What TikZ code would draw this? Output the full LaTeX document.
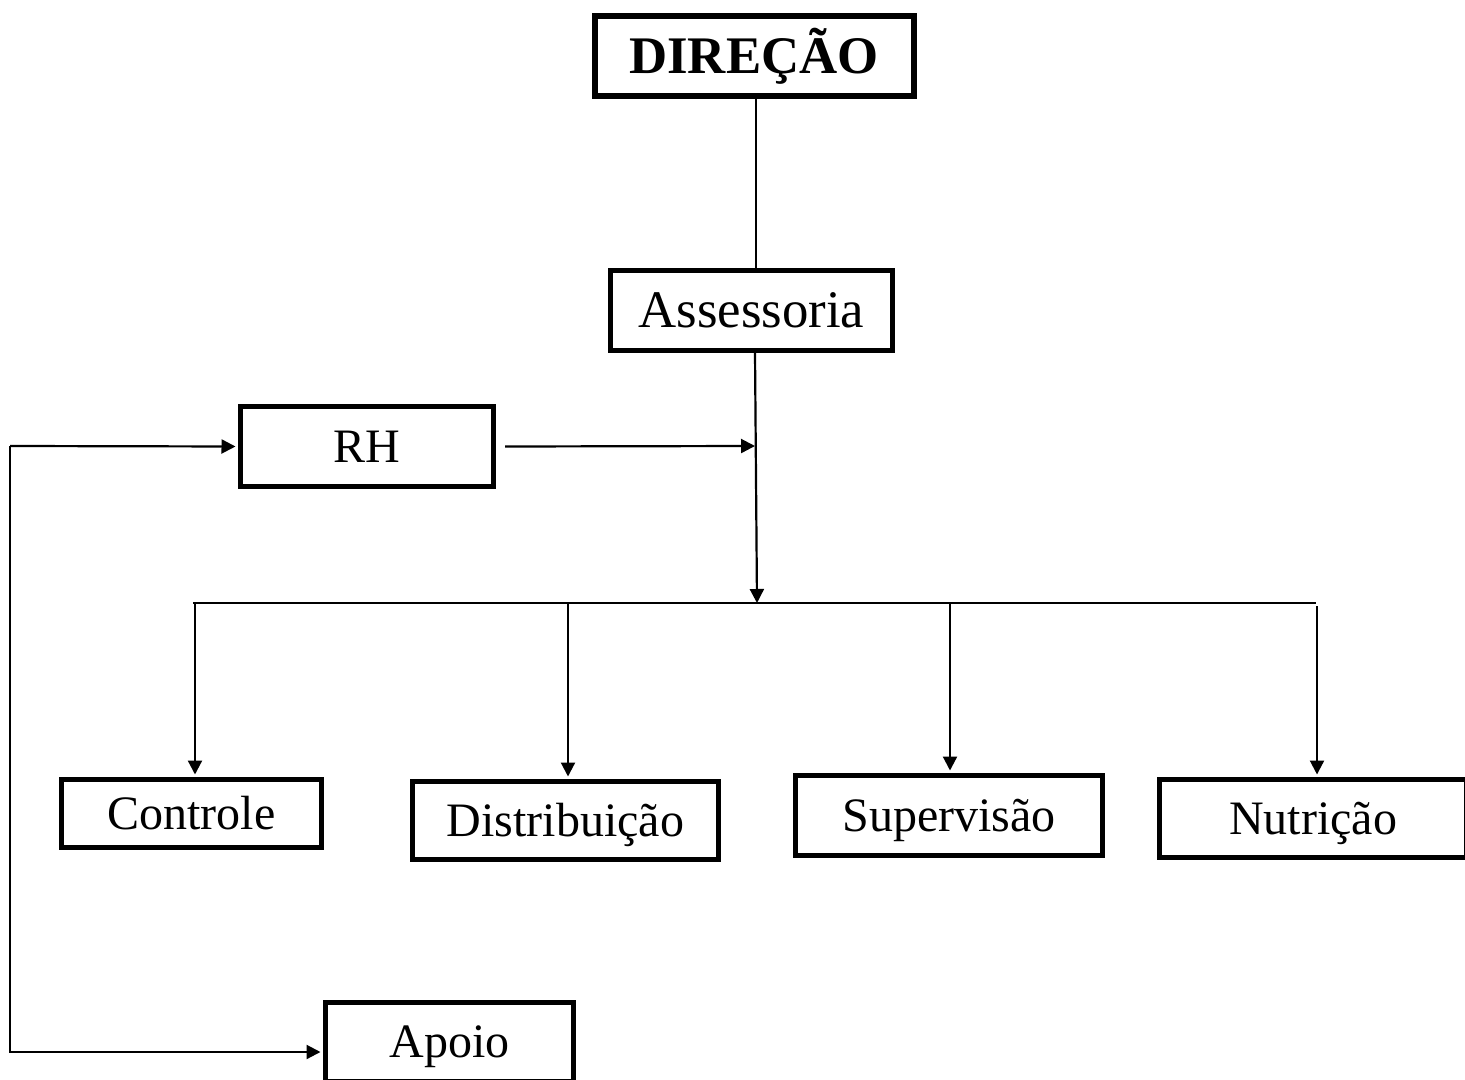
\documentclass[tikz,border=0pt]{standalone}
\usepackage{fontspec}
\setmainfont{Liberation Serif}
\usetikzlibrary{arrows.meta}
\tikzset{
  box/.style={draw, line width=2.6pt, rectangle, inner sep=0pt, align=center,
    text height=15.9pt, text depth=0pt},
  bigtxt/.style={font=\fontsize{26.4pt}{30pt}\selectfont, text height=17.5pt},
  smalltxt/.style={font=\fontsize{24pt}{28pt}\selectfont, text height=15.9pt},
  conn/.style={line width=1.1pt},
  arr/.style={conn, -{Triangle[length=7pt,width=7pt]}, shorten >=1.2pt},
}
\begin{document}
\begin{tikzpicture}[x=0.5pt,y=-0.5pt]
\clip (0,0) rectangle (1465,1080);
\fill[white] (0,0) rectangle (1465,1080);
% boxes
\node[box, line width=3pt, bigtxt, font=\fontsize{26.4pt}{30pt}\selectfont\bfseries, minimum width=159.5pt, minimum height=40pt] (DIR) at (754,56.5) {DIREÇÃO};
\node[box, bigtxt, minimum width=141pt, minimum height=40pt] (ASS) at (751.5,310.5) {Assessoria};
\node[box, smalltxt, minimum width=126.5pt, minimum height=40pt] (RH) at (367,446.5) {RH};
\node[box, smalltxt, minimum width=130pt, minimum height=34pt] (CTL) at (191.5,813.5) {Controle};
\node[box, smalltxt, minimum width=153pt, minimum height=39pt] (DIS) at (565.5,820.5) {Distribuição};
\node[box, smalltxt, minimum width=153.5pt, minimum height=40pt] (SUP) at (949,815.5) {Supervisão};
\node[box, smalltxt, minimum width=153.5pt, minimum height=39pt] (NUT) at (1313,818.5) {Nutrição};
\node[box, smalltxt, minimum width=124pt, minimum height=39.5pt] (APO) at (449.5,1042) {Apoio};
% coordinates
\coordinate (busL) at (193,603);
\coordinate (busR) at (1316,603);
\coordinate (busM) at (757,603);
\coordinate (join) at (755,446);
\coordinate (d1) at (195,603);
\coordinate (d2) at (568,603);
\coordinate (d3) at (950,603);
\coordinate (d4) at (1317,606);
\coordinate (L1) at (10,446);
\coordinate (L2) at (10,1052);
% connectors
\draw[conn] (DIR.south -| 756,0) -- (ASS.north -| 756,0);
\draw[arr, shorten >=0pt] (ASS.south -| 755,0) -- (busM);
\draw[arr, shorten >=0pt] ([xshift=4.5pt]RH.east) -- (join);
\draw[conn] (busL) -- (busR);
\draw[arr] (d1) -- (d1 |- CTL.north);
\draw[arr] (d2) -- (d2 |- DIS.north);
\draw[arr] (d3) -- (d3 |- SUP.north);
\draw[arr] (d4) -- (d4 |- NUT.north);
\draw[arr] (L1) -- (RH.west);
\draw[arr] (L1) -- (L2) -- (L2 -| APO.west);
\end{tikzpicture}
\end{document}
